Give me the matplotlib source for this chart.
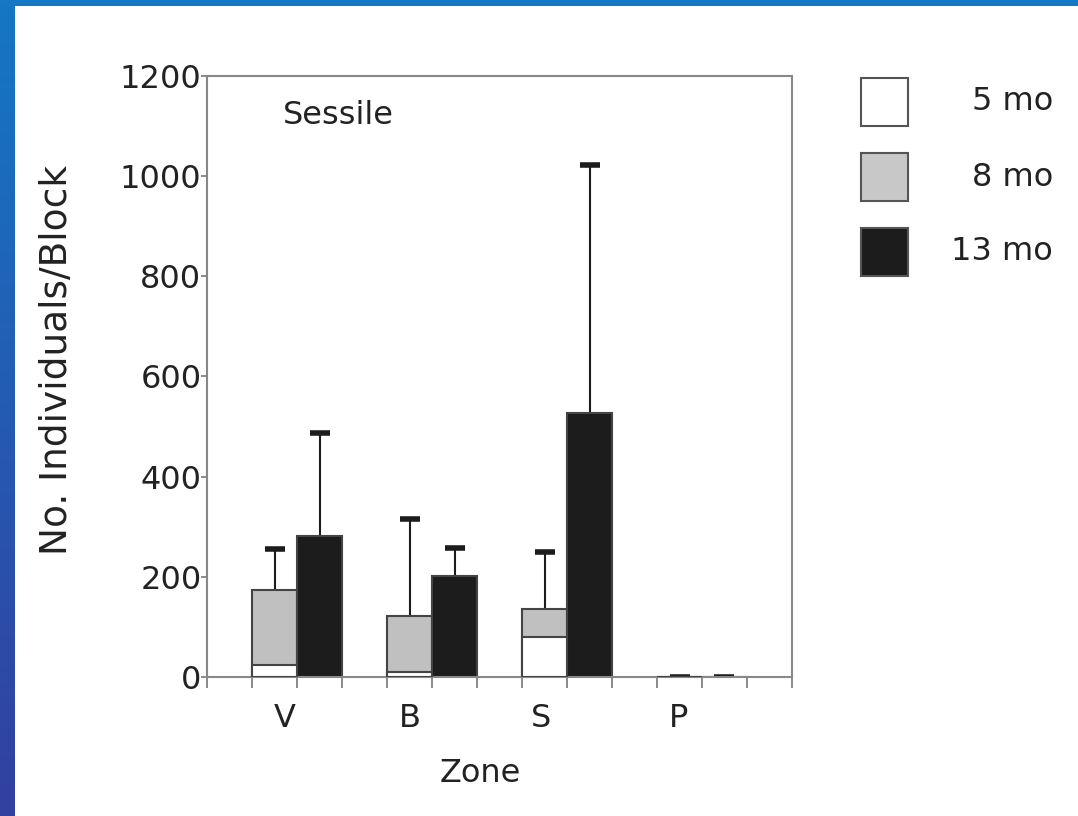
import matplotlib
matplotlib.use("Agg")
import matplotlib.pyplot as plt
import numpy as np
from matplotlib.patches import Rectangle
from matplotlib.colors import LinearSegmentedColormap

zones = ['V', 'B', 'S', 'P']
mo5 = [24, 10, 80, 0]
mo8 = [174, 122, 136, 0]
mo8_err = [82, 194, 114, 0]
mo13 = [282, 202, 528, 0]
mo13_err = [206, 56, 494, 0]
legend_labels = ['5 mo', '8 mo', '13 mo']
yticks = [0, 200, 400, 600, 800, 1000, 1200]

W, H = 1078, 816
fig = plt.figure(figsize=(W / 100, H / 100), dpi=100)
fig.patch.set_facecolor('white')

# blue frame
gax = fig.add_axes([0, 0, 15 / W, 1])
grad = np.linspace(0, 1, 256).reshape(-1, 1)
cmap = LinearSegmentedColormap.from_list('b', ['#1577c5', '#3340a0'])
gax.imshow(grad, aspect='auto', cmap=cmap, origin='upper')
gax.axis('off')
tax = fig.add_axes([0, 1 - 6 / H, 1, 6 / H])
tax.set_facecolor('#1577c5')
tax.set_xticks([]); tax.set_yticks([])
for s in tax.spines.values():
    s.set_visible(False)

FS = 23
TC = '#222222'
ax = fig.add_axes([207 / W, (H - 677) / H, (792 - 207) / W, (677 - 76) / H])
base = np.array([1, 4, 7, 10])
x8 = base + 0.5
x13 = base + 1.5
edge = '#444444'
ax.bar(x8, mo8, width=1, color='#c0c0c0', edgecolor=edge, linewidth=1.5, zorder=2)
ax.bar(x8, mo5, width=1, color='white', edgecolor=edge, linewidth=1.5, zorder=3)
ax.bar(x13, mo13, width=1, color='#1c1c1c', edgecolor=edge, linewidth=1.5, zorder=2)
for xs, vals, errs in [(x8, mo8, mo8_err), (x13, mo13, mo13_err)]:
    _, caps, _ = ax.errorbar(xs, vals, yerr=[np.zeros(4), errs], fmt='none',
                             ecolor='#1c1c1c', elinewidth=1.5, capsize=7,
                             capthick=4, zorder=1)
    caps[0].remove()

ax.set_xlim(0, 13)
ax.set_ylim(0, 1200)
ax.set_xticks(range(14))
ax.set_xticklabels([])
ax.set_yticks(yticks)
ax.set_yticklabels([str(v) for v in yticks], fontsize=FS, color=TC)
ax.tick_params(axis='y', length=4, width=1.2, color='#777777', pad=0)
ax.tick_params(axis='x', length=8, width=1.2, color='#777777', direction='out')
for s in ax.spines.values():
    s.set_color('#888888')
    s.set_linewidth(1.5)

label_pos = [1.73, 4.51, 7.42, 10.47]
for z, p in zip(zones, label_pos):
    ax.text(p, -82, z, fontsize=FS, ha='center', va='center', color=TC, clip_on=False)
fig.text(480 / W, 1 - 773 / H, 'Zone', fontsize=FS, ha='center', va='center', color=TC)
fig.text(57 / W, 1 - 360 / H, 'No. Individuals/Block', fontsize=27, rotation=90,
         ha='center', va='center', color=TC)
fig.text(338 / W, 1 - 115 / H, 'Sessile', fontsize=FS, ha='center', va='center', color=TC)

# legend
colors = ['white', '#c8c8c8', '#1c1c1c']
ys = [102, 177, 252]
for c, y, lab in zip(colors, ys, legend_labels):
    fig.patches.append(Rectangle((861 / W, 1 - (y + 24) / H), 47 / W, 48 / H,
                                 transform=fig.transFigure, facecolor=c,
                                 edgecolor='#555555', linewidth=1.5))
    fig.text(1053 / W, 1 - y / H, lab, fontsize=FS, ha='right', va='center', color=TC)

fig.savefig('out.png', dpi=100)
